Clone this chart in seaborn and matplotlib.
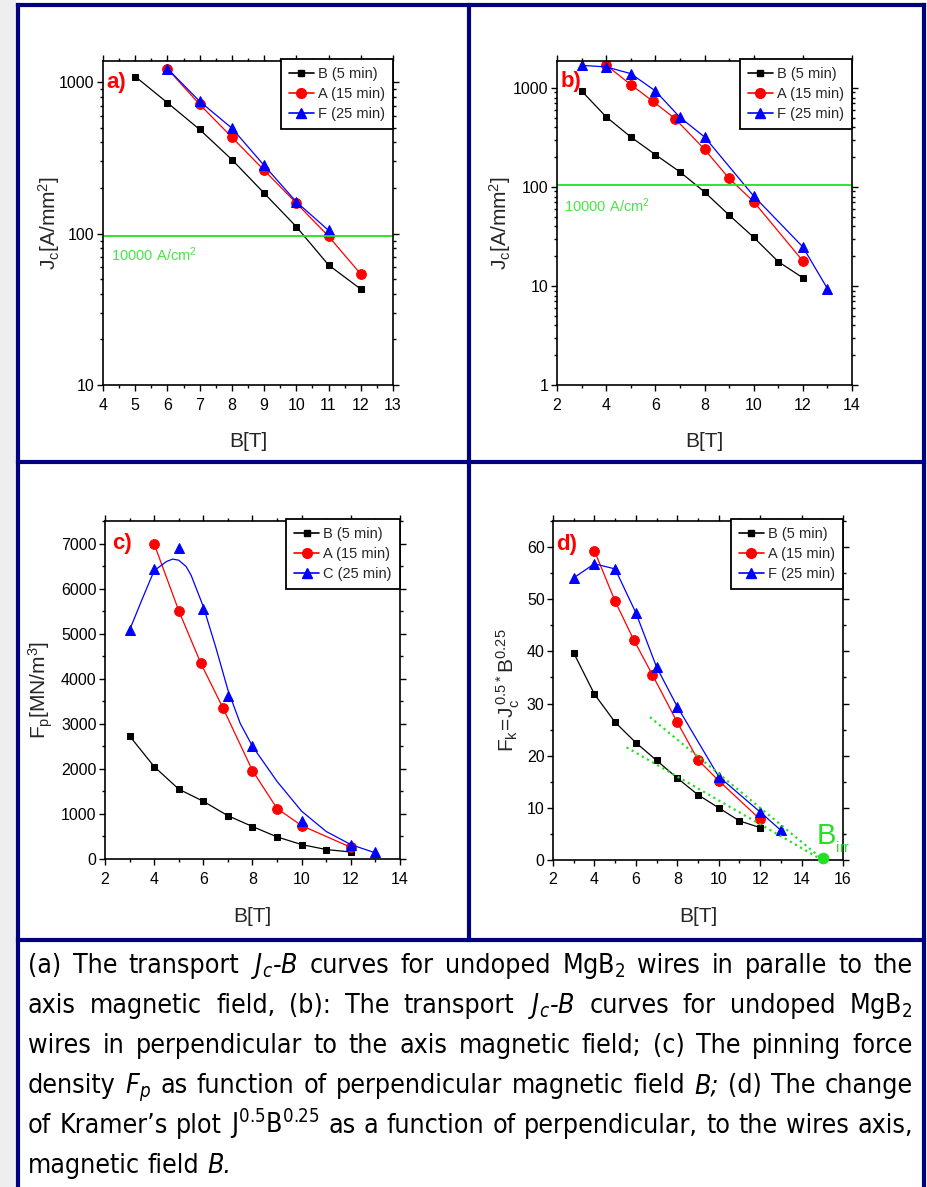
import matplotlib
matplotlib.use("Agg")
import matplotlib.pyplot as plt
import seaborn as sns
from matplotlib.lines import Line2D
from matplotlib.patches import Rectangle
from matplotlib.ticker import MultipleLocator, LogLocator, NullFormatter

# ---------------- data ----------------
# panel a: Jc-B, field parallel
a_B_x = [5, 6, 7, 8, 9, 10, 11, 12]
a_B_y = [1090, 731, 487, 308, 185, 111, 62, 43]
a_A_x = [6, 7, 8, 9, 10, 11, 12]
a_A_y = [1225, 713, 433, 262, 159, 96, 54]
a_F_x = [6, 7, 8, 9, 10, 11]
a_F_y = [1230, 747, 497, 282, 162, 105]
a_limit = 97

# panel b: Jc-B, field perpendicular
b_B_x = [3, 4, 5, 6, 7, 8, 9, 10, 11, 12]
b_B_y = [933, 510, 320, 212, 142, 89, 52, 31, 17.6, 12.1]
b_A_x = [4, 5, 5.9, 6.8, 8, 9, 10, 12]
b_A_y = [1700, 1080, 733, 490, 240, 122, 71, 17.9]
b_F_x = [3, 4, 5, 6, 7, 8, 10, 12, 13]
b_F_y = [1690, 1630, 1395, 933, 505, 320, 81, 24.8, 9.4]
b_limit = 104

# panel c: pinning force
c_B_x = [3, 4, 5, 6, 7, 8, 9, 10, 11, 12]
c_B_y = [2730, 2050, 1550, 1280, 960, 720, 490, 320, 210, 155]
c_A_x = [4, 5, 5.9, 6.8, 8, 9, 10, 12]
c_A_y = [6990, 5510, 4340, 3350, 1960, 1120, 740, 260]
c_C_x = [3, 4, 5, 6, 7, 8, 10, 12, 13]
c_C_y = [5080, 6430, 6910, 5540, 3620, 2500, 835, 318, 148]
c_Cfit_x = [3, 3.5, 4, 4.5, 4.75, 5, 5.3, 5.5, 6, 6.5, 7, 7.5, 8, 9, 10, 11, 12, 13]
c_Cfit_y = [5080, 5750, 6400, 6600, 6655, 6630, 6490, 6300, 5600, 4710, 3750, 3010, 2500, 1720, 1060, 610, 320, 135]

# panel d: Kramer plot
d_B_x = [3, 4, 5, 6, 7, 8, 9, 10, 11, 12]
d_B_y = [39.7, 31.8, 26.4, 22.5, 19.1, 15.7, 12.5, 10.0, 7.5, 6.2]
d_A_x = [4, 5, 5.9, 6.8, 8, 9, 10, 12]
d_A_y = [59.3, 49.6, 42.2, 35.5, 26.4, 19.2, 15.2, 7.8]
d_F_x = [3, 4, 5, 6, 7, 8, 10, 12, 13]
d_F_y = [54.1, 56.8, 55.8, 47.4, 37.0, 29.4, 16.0, 9.2, 5.7]
d_fit1_x = [6.68, 15.06]
d_fit1_y = [27.4, 0.0]
d_fit2_x = [5.55, 15.0]
d_fit2_y = [21.6, 0.0]
d_birr_x = [15.03]
d_birr_y = [0.3]

legend_abd = ["B (5 min)", "A (15 min)", "F (25 min)"]
legend_c = ["B (5 min)", "A (15 min)", "C (25 min)"]

caption_lines = [
    ["(a)", "The", "transport", r"$\mathregular{J_c}$-B", "curves", "for", "undoped",
     r"$\mathregular{MgB_2}$", "wires", "in", "paralle", "to", "the"],
    ["axis", "magnetic", "field,", "(b):", "The", "transport", r"$\mathregular{J_c}$-B",
     "curves", "for", "undoped", r"$\mathregular{MgB_2}$"],
    ["wires", "in", "perpendicular", "to", "the", "axis", "magnetic", "field;", "(c)",
     "The", "pinning", "force"],
    ["density", r"$\mathregular{F_p}$", "as", "function", "of", "perpendicular", "magnetic",
     "field", "B;", "(d)", "The", "change"],
    ["of", "Kramer\u2019s", "plot", r"$\mathregular{J^{0.5}B^{0.25}}$", "as", "a", "function",
     "of", "perpendicular,", "to", "the", "wires", "axis,"],
    ["magnetic", "field", "B."],
]
italic_tokens = {r"$\mathregular{J_c}$-B", r"$\mathregular{F_p}$", "B;", "B."}

# ---------------- style ----------------
sns.set_style("ticks")
REG = ["Liberation Sans", "DejaVu Sans"]
plt.rcParams["font.family"] = REG
plt.rcParams["axes.edgecolor"] = "black"
plt.rcParams["xtick.color"] = "black"
plt.rcParams["ytick.color"] = "black"

W, H = 928, 1187
fig = plt.figure(figsize=(W / 100, H / 100), dpi=100)
fig.patch.set_facecolor("white")


def ax_rect(x0, y0, x1, y1):
    return [x0 / W, 1 - y1 / H, (x1 - x0) / W, (y1 - y0) / H]


axa = fig.add_axes(ax_rect(103, 61, 393, 385))
axb = fig.add_axes(ax_rect(557, 61, 852, 385))
axc = fig.add_axes(ax_rect(105, 521, 400, 859))
axd = fig.add_axes(ax_rect(553, 521, 843, 860))

LW = 0.9
STY = {
    "B": dict(color="black", marker="s", markersize=5),
    "A": dict(color="red", marker="o", markersize=7),
    "F": dict(color="blue", marker="^", markersize=7),
}
GREEN = "#22e022"


def series(ax, x, y, key, line=True):
    s = STY[key]
    sns.lineplot(x=x, y=y, ax=ax, color=s["color"], marker=s["marker"],
                 markersize=s["markersize"], markeredgecolor=s["color"],
                 linewidth=LW if line else 0, sort=False, legend=False,
                 errorbar=None)


def add_legend(ax, labels):
    handles = [Line2D([], [], lw=1.2, markeredgecolor=STY[k]["color"], **STY[k])
               for k in ("B", "A", "F")]
    leg = ax.legend(handles, labels, loc="upper right", bbox_to_anchor=(1.0, 1.006),
                    borderaxespad=0, frameon=True, fancybox=False, framealpha=1,
                    edgecolor="black", fontsize=10.5, handlelength=1.7,
                    handletextpad=0.3, labelspacing=0.42, borderpad=0.55)
    leg.get_frame().set_linewidth(1.3)


def style_axes(ax):
    for s in ax.spines.values():
        s.set_visible(True)
        s.set_linewidth(1.2)
        s.set_color("black")
    ax.tick_params(which="both", direction="out", top=True, right=True,
                   labelsize=11.5, width=1.0, color="black")
    ax.tick_params(which="major", length=4)
    ax.tick_params(which="minor", length=2.5)
    ax.tick_params(axis="x", which="both", pad=5)
    ax.tick_params(axis="y", which="both", pad=2)
    ax.grid(False)


# ---- panel a ----
series(axa, a_B_x, a_B_y, "B")
series(axa, a_A_x, a_A_y, "A")
series(axa, a_F_x, a_F_y, "F")
axa.axhline(a_limit, color=GREEN, lw=1.3)
axa.set_yscale("log")
axa.set_xlim(4, 13)
axa.set_ylim(10, 1380)
axa.set_xticks(range(4, 14))
axa.xaxis.set_minor_locator(MultipleLocator(0.5))
axa.set_yticks([10, 100, 1000], ["10", "100", "1000"])
axa.yaxis.set_minor_locator(LogLocator(base=10, subs=range(2, 10)))
axa.yaxis.set_minor_formatter(NullFormatter())
axa.text(4.25, 73, r"$\mathregular{10000\ A/cm^2}$", color="#44e844", fontsize=10.5,
         va="center", ha="left")
axa.text(4.1, 1000, "a)", color="red", fontsize=16, fontweight="bold",
         va="center", ha="left")
add_legend(axa, legend_abd)

# ---- panel b ----
series(axb, b_B_x, b_B_y, "B")
series(axb, b_A_x, b_A_y, "A")
series(axb, b_F_x, b_F_y, "F")
axb.axhline(b_limit, color=GREEN, lw=1.3)
axb.set_yscale("log")
axb.set_xlim(2, 14)
axb.set_ylim(1, 1870)
axb.set_xticks(range(2, 15, 2))
axb.xaxis.set_minor_locator(MultipleLocator(1))
axb.set_yticks([1, 10, 100, 1000], ["1", "10", "100", "1000"])
axb.yaxis.set_minor_locator(LogLocator(base=10, subs=range(2, 10)))
axb.yaxis.set_minor_formatter(NullFormatter())
axb.text(2.3, 64, r"$\mathregular{10000\ A/cm^2}$", color="#44e844", fontsize=10.5,
         va="center", ha="left")
axb.text(2.14, 1150, "b)", color="red", fontsize=16, fontweight="bold",
         va="center", ha="left")
add_legend(axb, legend_abd)

# ---- panel c ----
series(axc, c_B_x, c_B_y, "B")
series(axc, c_A_x, c_A_y, "A")
sns.lineplot(x=c_Cfit_x, y=c_Cfit_y, ax=axc, color="blue", linewidth=LW, sort=False,
             legend=False, errorbar=None)
series(axc, c_C_x, c_C_y, "F", line=False)
axc.set_xlim(2, 14)
axc.set_ylim(0, 7500)
axc.set_xticks(range(2, 15, 2))
axc.xaxis.set_minor_locator(MultipleLocator(1))
axc.set_yticks(range(0, 7001, 1000))
axc.yaxis.set_minor_locator(MultipleLocator(500))
axc.text(2.27, 7000, "c)", color="red", fontsize=16, fontweight="bold",
         va="center", ha="left")
add_legend(axc, legend_c)

# ---- panel d ----
series(axd, d_B_x, d_B_y, "B")
series(axd, d_A_x, d_A_y, "A")
series(axd, d_F_x, d_F_y, "F")
sns.lineplot(x=d_fit1_x, y=d_fit1_y, ax=axd, color=GREEN, linewidth=1.6,
             linestyle=":", legend=False, errorbar=None)
sns.lineplot(x=d_fit2_x, y=d_fit2_y, ax=axd, color=GREEN, linewidth=1.6,
             linestyle=":", legend=False, errorbar=None)
sns.scatterplot(x=d_birr_x, y=d_birr_y, ax=axd, color=GREEN, s=60,
                edgecolor=GREEN, legend=False, zorder=5, clip_on=False)
axd.text(14.72, 3.0, r"$\mathregular{B_{_{irr}}}$", color=GREEN, fontsize=21,
         ha="left", va="baseline")
axd.set_xlim(2, 16)
axd.set_ylim(0, 65)
axd.set_xticks(range(2, 17, 2))
axd.xaxis.set_minor_locator(MultipleLocator(1))
axd.set_yticks(range(0, 61, 10))
axd.yaxis.set_minor_locator(MultipleLocator(5))
axd.text(2.16, 60.5, "d)", color="red", fontsize=16, fontweight="bold",
         va="center", ha="left")
add_legend(axd, legend_abd)

# ---- axis labels ----
ylabels = [
    (axa, r"$\mathregular{J_c[A/mm^2]}$", -0.14),
    (axb, r"$\mathregular{J_c[A/mm^2]}$", -0.149),
    (axc, r"$\mathregular{F_p[MN/m^3]}$", -0.169),
    (axd, r"$\mathregular{F_k\!=\!J_c^{\,0.5*}B^{0.25}}$", -0.107),
]
for ax, lab, xp in ylabels:
    ax.set_ylabel(lab, fontsize=15)
    ax.yaxis.set_label_coords(xp, 0.5)
for ax, yp in ((axa, -0.145), (axb, -0.145), (axc, -0.142), (axd, -0.139)):
    ax.set_xlabel("B[T]", fontsize=15)
    ax.xaxis.set_label_coords(0.5, yp)

for ax in (axa, axb, axc, axd):
    style_axes(ax)

# ---------------- frame ----------------
fig.add_artist(Rectangle((0, 0), 16 / W, 1, transform=fig.transFigure,
                         facecolor="#eeeeee", edgecolor="none", zorder=0))
NAVY = "#000080"


def fline(x0, y0, x1, y1):
    fig.add_artist(Line2D([x0 / W, x1 / W], [1 - y0 / H, 1 - y1 / H],
                          transform=fig.transFigure, color=NAVY, lw=3.0,
                          solid_capstyle="projecting"))


fline(18, 5, 18, H + 5)
fline(924, 5, 924, H + 5)
fline(18, 5, 924, 5)
fline(469, 5, 469, 940)
fline(18, 462, 924, 462)
fline(18, 940, 924, 940)

# ---------------- caption (justified) ----------------
renderer = fig.canvas.get_renderer()
CAP_FAM = ["DejaVu Sans"]


def measure(s, fs, style):
    t = fig.text(0, 0, s, fontsize=fs, family=CAP_FAM, fontstretch="condensed",
                 style=style)
    w = t.get_window_extent(renderer).width
    t.remove()
    return w


x_left, x_right = 28, 913
base_fs = 19.5
avail = x_right - x_left
space_w = measure("a a", base_fs, "normal") - measure("aa", base_fs, "normal")
maxw = 0
for words in caption_lines[:-1]:
    tot = sum(measure(w, base_fs, "italic" if w in italic_tokens else "normal")
              for w in words) + space_w * (len(words) - 1)
    maxw = max(maxw, tot)
fs = base_fs * 0.995 * avail / maxw
space_w = measure("a a", fs, "normal") - measure("aa", fs, "normal")

baselines = [973, 1013, 1053, 1093, 1133, 1173]
for i, words in enumerate(caption_lines):
    styles = ["italic" if w in italic_tokens else "normal" for w in words]
    widths = [measure(w, fs, st) for w, st in zip(words, styles)]
    if i < len(caption_lines) - 1 and len(words) > 1:
        gap = (avail - sum(widths)) / (len(words) - 1)
    else:
        gap = space_w
    x = x_left
    for w, st, wd in zip(words, styles, widths):
        fig.text(x / W, 1 - baselines[i] / H, w, fontsize=fs, family=CAP_FAM,
                 fontstretch="condensed", style=st, ha="left", va="baseline",
                 color="black")
        x += wd + gap

fig.savefig("out.png", dpi=100, facecolor="white")
